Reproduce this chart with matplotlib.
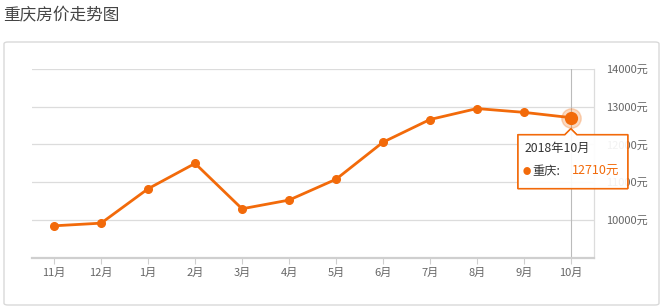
import numpy as np
import matplotlib
matplotlib.use("Agg")
import matplotlib.pyplot as plt
from matplotlib.patches import FancyBboxPatch, Polygon

plt.rcParams['font.family'] = ['Noto Sans CJK SC', 'DejaVu Sans']

# data
months = ['11月', '12月', '1月', '2月', '3月', '4月', '5月', '6月', '7月', '8月', '9月', '10月']
prices = [9850, 9920, 10830, 11500, 10300, 10530, 11080, 12060, 12660, 12950, 12850, 12710]
y_ticks = [10000, 11000, 12000, 13000, 14000]
tip_title = '2018年10月'
series_name = '重庆'

orange = '#f26a0a'
grid_col = '#dcdcdc'
label_col = '#666666'

fig = plt.figure(figsize=(6.68, 3.06), dpi=100)
ax = fig.add_axes([0.048, 0.157, 0.841, 0.618])

# outer card frame
frame = FancyBboxPatch((4 / 668, 1 / 306), 655 / 668, 263 / 306,
                       boxstyle='round,pad=0,rounding_size=0.006',
                       transform=fig.transFigure, fill=False,
                       edgecolor='#d9d9d9', linewidth=1.0, zorder=0)
fig.patches.append(frame)

fig.text(3 / 668, 1 - 15 / 306, '重庆房价走势图', fontsize=12, color='#444444',
         ha='left', va='center')

x = np.arange(len(months))
ax.set_xlim(-0.47, len(months) - 0.51)
ax.set_ylim(9000, 14000)

for v in y_ticks:
    ax.axhline(v, color=grid_col, linewidth=0.9, zorder=1)

ax.plot(x, prices, color=orange, linewidth=2.0, marker='o', markersize=5.5, zorder=3)

# highlighted last point with crosshair
ax.axvline(x[-1], color='#bbbbbb', linewidth=0.8, zorder=2)
ax.plot(x[-1], prices[-1], 'o', color=orange, markersize=14, alpha=0.25, zorder=4)
ax.plot(x[-1], prices[-1], 'o', color=orange, markersize=8.5, zorder=5)

for s in ['top', 'left']:
    ax.spines[s].set_visible(False)
ax.spines['right'].set_color(grid_col)
ax.spines['right'].set_linewidth(0.9)
ax.spines['bottom'].set_color('#cfcfcf')
ax.spines['bottom'].set_linewidth(1.6)

ax.set_xticks(x)
ax.set_xticklabels(months)
ax.set_yticks(y_ticks)
ax.set_yticklabels([f'{v}元' for v in y_ticks])
ax.yaxis.tick_right()
ax.tick_params(axis='y', length=0, pad=9, labelsize=8, labelcolor=label_col)
ax.tick_params(axis='x', length=4, width=0.8, color='#cfcfcf', pad=3,
               labelsize=8, labelcolor=label_col)

# tooltip box, placed relative to the last point (pixel units)
fig.canvas.draw()
px, py = ax.transData.transform((x[-1], prices[-1]))
left, right = px - 53, px + 57
top, bottom = py - 17, py - 71
notch = 6
pts = [(left, top), (px - notch, top), (px, top + notch), (px + notch, top),
       (right, top), (right, bottom), (left, bottom)]
tip = Polygon(pts, closed=True, transform=None, facecolor='white', alpha=0.92,
              edgecolor=orange, linewidth=1.0, zorder=10)
fig.patches.append(tip)
tip_edge = Polygon(pts, closed=True, transform=None, fill=False,
                   edgecolor=orange, linewidth=1.0, zorder=11)
fig.patches.append(tip_edge)

fig.text((left + 7) / 668, (top - 14) / 306, tip_title, fontsize=8.8, color='#333333',
         ha='left', va='center', zorder=12)
fig.text((left + 5) / 668, (top - 37) / 306, '●', fontsize=6, color=orange,
         ha='left', va='center', zorder=12)
fig.text((left + 15) / 668, (top - 37) / 306, f'{series_name}:', fontsize=8.8,
         color='#333333', ha='left', va='center', zorder=12)
fig.text((left + 54) / 668, (top - 37) / 306, f'{prices[-1]}元', fontsize=9,
         color=orange, ha='left', va='center', zorder=12)

fig.savefig('out.png', dpi=100)
